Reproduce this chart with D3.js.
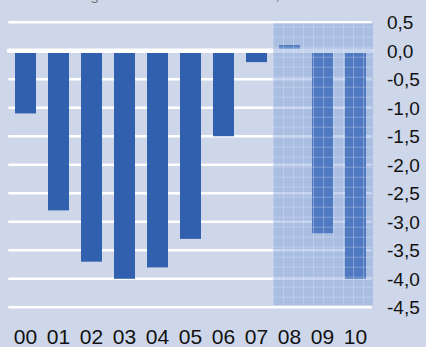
<!DOCTYPE html>
<html>
<head>
<meta charset="utf-8">
<script src="https://cdn.jsdelivr.net/npm/d3@7"></script>
<style>
  html, body { margin: 0; padding: 0; background: #cdd7e9; }
  svg { display: block; }
</style>
</head>
<body>
<script>
// Budget balance, % of GDP, 2000–2010 (2008–2010 forecast)
const years = ["00", "01", "02", "03", "04", "05", "06", "07", "08", "09", "10"];
const saldo = [-1.1, -2.8, -3.7, -4.0, -3.8, -3.3, -1.5, -0.2, 0.1, -3.2, -4.0];
const forecastYears = ["08", "09", "10"];
const yTicks = [0.5, 0.0, -0.5, -1.0, -1.5, -2.0, -2.5, -3.0, -3.5, -4.0, -4.5];
const title = "Finanzierungssaldo des Gesamtstaates, in % des BIP";

const W = 426, H = 347;
const fmt = v => d3.format(".1f")(v).replace(".", ",").replace("−", "-");

const svg = d3.select("body").append("svg")
  .attr("width", W).attr("height", H);

svg.append("rect").attr("width", W).attr("height", H).attr("fill", "#cdd7e9");

const x = d3.scaleBand().domain(years).range([9, 372])
  .paddingInner(12 / 33).paddingOuter(0.182);
const y = d3.scaleLinear().domain([0.5, -4.5]).range([22.2, 307.3]);

// title line, sitting mostly above the top edge
svg.append("text").attr("x", 12).attr("y", 0.2)
  .attr("font-family", "Liberation Sans, Arial, sans-serif")
  .attr("font-size", 15).attr("fill", "#777")
  .text(title);

// horizontal gridlines
svg.append("g").selectAll("line").data(yTicks.filter(t => t !== 0)).join("line")
  .attr("x1", 8.3).attr("x2", 371.7)
  .attr("y1", d => y(d)).attr("y2", d => y(d))
  .attr("stroke", "#ffffff").attr("stroke-width", 2.6);

// bars
svg.append("g").selectAll("rect").data(years.map((k, i) => ({ k, v: saldo[i] }))).join("rect")
  .attr("x", d => x(d.k))
  .attr("width", x.bandwidth())
  .attr("y", d => Math.min(y(0), y(d.v)))
  .attr("height", d => Math.abs(y(d.v) - y(0)))
  .attr("fill", "#3160ae");

// zero line
svg.append("line")
  .attr("x1", 9).attr("x2", 371.5)
  .attr("y1", y(0)).attr("y2", y(0))
  .attr("stroke", "#ffffff").attr("stroke-width", 4.6)
  .attr("stroke-linecap", "round");

// forecast shading with a fine grid texture
const fx0 = x(forecastYears[0]) - (x.step() - x.bandwidth()) / 2;
const fx1 = x(forecastYears[forecastYears.length - 1]) + x.bandwidth() + (x.step() - x.bandwidth()) / 2 + 1;
const fy0 = 23.3, fy1 = 305;

const defs = svg.append("defs");
const pat = defs.append("pattern").attr("id", "fgrid")
  .attr("patternUnits", "userSpaceOnUse")
  .attr("x", fx0).attr("y", fy0 + 3.4)
  .attr("width", 10).attr("height", 10);
pat.append("rect").attr("width", 10).attr("height", 10).attr("fill", "rgba(122,154,216,0.42)");
pat.append("line").attr("x1", 0.5).attr("x2", 0.5).attr("y1", 0).attr("y2", 10)
  .attr("stroke", "rgba(225,232,248,0.32)").attr("stroke-width", 1);
pat.append("line").attr("x1", 0).attr("x2", 10).attr("y1", 0.5).attr("y2", 0.5)
  .attr("stroke", "rgba(225,232,248,0.32)").attr("stroke-width", 1);

svg.append("rect")
  .attr("x", fx0).attr("y", fy0)
  .attr("width", fx1 - fx0).attr("height", fy1 - fy0)
  .attr("fill", "url(#fgrid)");

// y tick labels on the right
svg.append("g").selectAll("text").data(yTicks).join("text")
  .attr("x", 387)
  .attr("y", d => y(d))
  .attr("dy", "0.36em")
  .attr("font-family", "Liberation Sans, Arial, sans-serif")
  .attr("font-size", 19).attr("fill", "#111")
  .text(d => fmt(d));

// x category labels
svg.append("g").selectAll("text").data(years).join("text")
  .attr("x", d => x(d) + x.bandwidth() / 2)
  .attr("y", 344)
  .attr("text-anchor", "middle")
  .attr("font-family", "Liberation Sans, Arial, sans-serif")
  .attr("font-size", 21).attr("fill", "#111")
  .text(d => d);
</script>
</body>
</html>
